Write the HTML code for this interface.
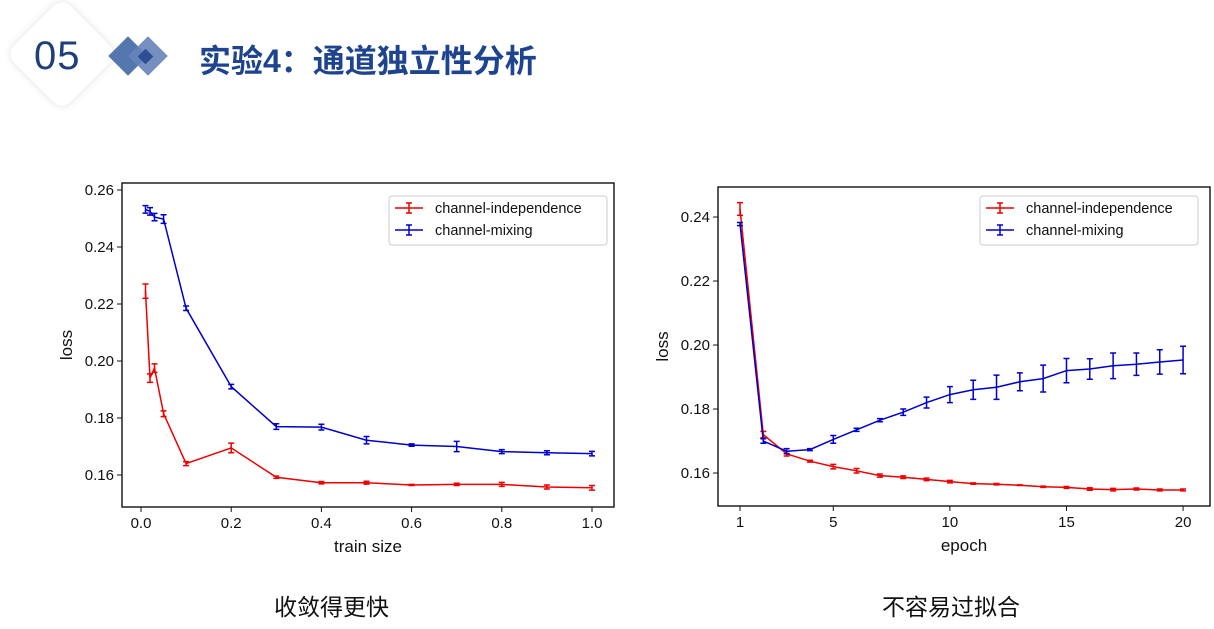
<!DOCTYPE html>
<html><head><meta charset="utf-8"><style>
body{margin:0;width:1214px;height:629px;background:#fff;overflow:hidden;position:relative;font-family:"Liberation Sans","Noto Sans CJK SC",sans-serif}
.t{position:absolute}
</style></head><body>
<div class="t" style="left:22px;top:14px;width:80px;height:80px;transform:rotate(45deg);border-radius:12px;box-shadow:0 0 8px rgba(0,0,0,0.12);background:#fff"></div>
<div class="t" style="left:34px;top:34px;font-size:40px;color:#1f3f7a;letter-spacing:1px">05</div>
<div class="t" style="left:114px;top:42px;width:28px;height:28px;transform:rotate(45deg);background:#5577b0"></div>
<div class="t" style="left:134px;top:42px;width:28px;height:28px;transform:rotate(45deg);background:#6583b9;opacity:.9"></div>
<div class="t" style="left:140px;top:51px;width:11px;height:11px;transform:rotate(45deg);background:#2d4f92"></div>
<div class="t" style="left:199px;top:36px;font-size:32px;font-weight:bold;color:#1e4490">实验4：通道独立性分析</div>
<div class="t" style="left:274px;top:588px;font-size:23px;color:#111">收敛得更快</div>
<div class="t" style="left:882px;top:588px;font-size:23px;color:#111">不容易过拟合</div>
<svg id="s" class="t" style="left:0;top:0" width="1214" height="629" font-family="Liberation Sans, sans-serif"></svg>
<script>
var S=document.getElementById('s'),h='';
function chart(o){
 var X=o.X,Y=o.Y;
 h+='<rect x="'+o.bx[0]+'" y="'+o.by[0]+'" width="'+(o.bx[1]-o.bx[0])+'" height="'+(o.by[1]-o.by[0])+'" fill="none" stroke="#111" stroke-width="1.4"/>';
 o.xt.forEach(function(t){var x=X(t[0]);h+='<line x1="'+x+'" x2="'+x+'" y1="'+o.by[1]+'" y2="'+(o.by[1]+5)+'" stroke="#111"/><text x="'+x+'" y="'+(o.by[1]+21)+'" font-size="15" text-anchor="middle" fill="#111">'+t[1]+'</text>';});
 o.yt.forEach(function(t){var y=Y(t);h+='<line x1="'+o.bx[0]+'" x2="'+(o.bx[0]-5)+'" y1="'+y+'" y2="'+y+'" stroke="#111"/><text x="'+(o.bx[0]-8)+'" y="'+(y+5)+'" font-size="15" text-anchor="end" fill="#111">'+t.toFixed(2)+'</text>';});
 h+='<text x="'+((o.bx[0]+o.bx[1])/2)+'" y="'+(o.by[1]+45)+'" font-size="17" text-anchor="middle" fill="#111">'+o.xl+'</text>';
 h+='<text transform="translate('+(o.bx[0]-50)+','+((o.by[0]+o.by[1])/2)+') rotate(-90)" font-size="17" text-anchor="middle" fill="#111">loss</text>';
 o.series.forEach(function(s){
  var p=s.d.map(function(d){return X(d[0]).toFixed(1)+','+Y(d[1]).toFixed(1)}).join(' ');
  h+='<polyline points="'+p+'" fill="none" stroke="'+s.c+'" stroke-width="1.5"/>';
  s.d.forEach(function(d){var x=X(d[0]),y1=Y(d[1]-d[2]),y2=Y(d[1]+d[2]);
   h+='<path d="M'+x+' '+y1+'V'+y2+'M'+(x-3)+' '+y1+'h6M'+(x-3)+' '+y2+'h6" stroke="'+s.c+'" stroke-width="1.5"/>';});
 });
 var lx=o.lg[0],ly=o.lg[1];
 h+='<rect x="'+lx+'" y="'+ly+'" width="218" height="49" rx="3" fill="#fff" stroke="#ccc"/>';
 [['#e00','channel-independence'],['#00c','channel-mixing']].forEach(function(l,i){var y=ly+12+i*22;
  h+='<path d="M'+(lx+6)+' '+y+'h28M'+(lx+20)+' '+(y-5)+'v10M'+(lx+17)+' '+(y-5)+'h6M'+(lx+17)+' '+(y+5)+'h6" stroke="'+l[0]+'" stroke-width="1.5"/><text x="'+(lx+46)+'" y="'+(y+5)+'" font-size="14.5" fill="#111">'+l[1]+'</text>';});
}
var xs=[.01,.02,.03,.05,.1,.2,.3,.4,.5,.6,.7,.8,.9,1];
var r1=[[.2245,.0025],[.194,.0015],[.1975,.0015],[.1815,.001],[.164,.0007],[.1695,.0017],[.1592,.0004],[.1573,.0004],[.1573,.0005],[.1565,.0002],[.1567,.0004],[.1567,.0007],[.1558,.0007],[.1555,.0008]];
var b1=[[.2532,.0013],[.2525,.0013],[.2505,.0013],[.2498,.0015],[.2185,.0008],[.191,.0008],[.177,.001],[.1768,.001],[.1722,.0013],[.1705,.0004],[.170,.0018],[.1682,.0007],[.1678,.0007],[.1675,.0008]];
chart({bx:[122,614],by:[183,507],X:function(v){return 141+v*451},Y:function(v){return 190+(0.26-v)*2850},
 xt:[[0,'0.0'],[.2,'0.2'],[.4,'0.4'],[.6,'0.6'],[.8,'0.8'],[1,'1.0']],yt:[.16,.18,.2,.22,.24,.26],xl:'train size',lg:[389,196],
 series:[{c:'#e00',d:xs.map(function(x,i){return [x,r1[i][0],r1[i][1]]})},{c:'#00c',d:xs.map(function(x,i){return [x,b1[i][0],b1[i][1]]})}]});
var r2=[.2425,.172,.166,.1637,.162,.1607,.1592,.1587,.158,.1573,.1567,.1565,.1562,.1557,.1555,.155,.1548,.155,.1547,.1547];
var re=[.002,.001,.0007,.0003,.0007,.0007,.0005,.0004,.0004,.0004,.0002,.0002,.0001,.0002,.0003,.0004,.0004,.0003,.0003,.0003];
var b2=[.2378,.170,.1668,.1673,.1705,.1735,.1765,.179,.182,.1845,.186,.1868,.1885,.1895,.192,.1925,.1935,.194,.1947,.1953];
var be=[.0005,.0007,.0008,.0003,.0012,.0005,.0005,.001,.0017,.0025,.003,.0038,.0028,.0042,.0038,.0032,.004,.0035,.0038,.0043];
chart({bx:[718,1210],by:[187,506],X:function(v){return 740+(v-1)*23.32},Y:function(v){return 217+(0.24-v)*3200},
 xt:[[1,'1'],[5,'5'],[10,'10'],[15,'15'],[20,'20']],yt:[.16,.18,.2,.22,.24],xl:'epoch',lg:[980,196],
 series:[{c:'#e00',d:r2.map(function(v,i){return [i+1,v,re[i]]})},{c:'#00c',d:b2.map(function(v,i){return [i+1,v,be[i]]})}]});
S.innerHTML=h;
</script>
</body></html>
